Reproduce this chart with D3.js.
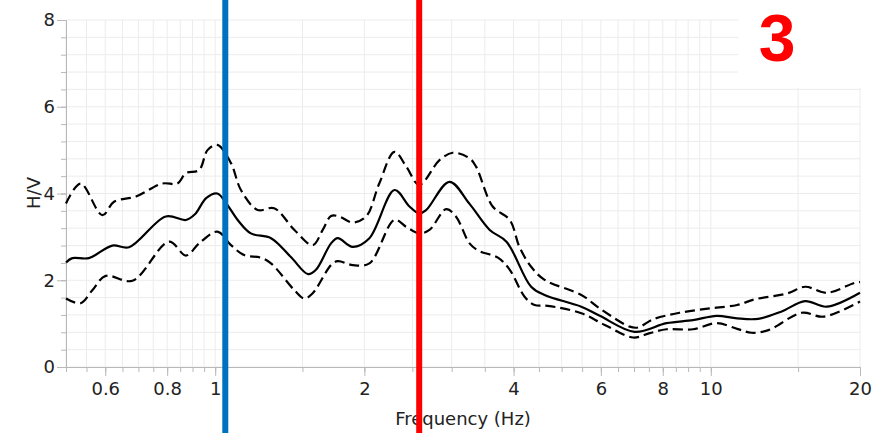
<!DOCTYPE html>
<html><head><meta charset="utf-8">
<script src="https://cdn.jsdelivr.net/npm/d3@7"></script>
<style>body{margin:0;background:#fff}svg{display:block}</style>
</head><body><svg id="c" width="877" height="433"></svg>
<script>
// ---- data ----
const meanFreq = [0.5,0.515,0.556,0.62,0.67,0.795,0.873,0.91,0.96,1.01,1.059,1.11,1.18,1.296,1.42,1.54,1.597,1.713,1.767,1.894,2.047,2.30,2.466,2.58,2.666,2.97,3.26,3.58,3.87,4.34,4.62,5.48,5.97,7.02,8.14,9.21,10.27,11.3,12.46,13.9,15.5,17.13,20];
const meanHV   = [2.41,2.51,2.51,2.80,2.76,3.47,3.39,3.52,3.90,4.00,3.73,3.39,3.08,2.97,2.54,2.14,2.24,2.85,2.97,2.77,2.97,4.08,3.70,3.54,3.62,4.27,3.76,3.16,2.89,1.85,1.66,1.39,1.18,0.81,1.01,1.08,1.18,1.12,1.11,1.28,1.52,1.39,1.71];
const upperFreq = [0.5,0.535,0.592,0.625,0.692,0.782,0.839,0.873,0.928,0.965,1.01,1.076,1.127,1.218,1.315,1.445,1.573,1.648,1.713,1.78,1.894,2.016,2.143,2.30,2.43,2.58,2.835,3.015,3.26,3.36,3.63,3.93,4.11,4.34,4.62,5.48,5.97,6.86,7.13,7.65,8.65,9.95,11.3,12.27,14.3,15.5,17.13,19.5,20];
const upperHV   = [3.77,4.23,3.50,3.81,3.93,4.23,4.23,4.47,4.54,5.00,5.12,4.70,4.08,3.62,3.66,3.16,2.81,3.16,3.48,3.47,3.33,3.47,4.23,4.96,4.62,4.20,4.77,4.94,4.81,4.62,3.70,3.39,2.77,2.31,2.01,1.66,1.35,0.93,0.91,1.10,1.25,1.35,1.43,1.56,1.70,1.85,1.71,1.94,1.96];
const lowerFreq = [0.5,0.535,0.565,0.601,0.681,0.807,0.873,0.928,1.01,1.076,1.144,1.237,1.296,1.445,1.513,1.573,1.713,1.767,1.894,2.047,2.30,2.43,2.58,2.706,2.925,3.06,3.26,3.40,3.72,3.93,4.21,4.41,4.69,5.48,6.11,6.97,7.53,8.14,9.21,10.27,11.3,12.08,13.07,15.25,16.9,20];
const lowerHV   = [1.58,1.47,1.77,2.10,1.99,2.89,2.57,2.85,3.12,2.81,2.58,2.52,2.39,1.77,1.58,1.70,2.35,2.44,2.35,2.39,3.39,3.23,3.08,3.16,3.64,3.47,2.85,2.68,2.52,2.24,1.62,1.43,1.41,1.24,0.97,0.68,0.78,0.87,0.87,1.01,0.88,0.79,0.85,1.25,1.16,1.51];
const xMajorTicks = [0.6,0.8,1,2,4,6,8,10,20];
const xMajorLabels = ["0.6","0.8","1","2","4","6","8","10","20"];
const xMinorTicks = [0.5,0.55,0.6,0.65,0.7,0.75,0.8,0.85,0.9,0.95,1,1.5,2,2.5,3,3.5,4,4.5,5,5.5,6,6.5,7,7.5,8,8.5,9,9.5,10,15,20];
const yMajorTicks = [0,2,4,6,8];
const yMinorTicks = [0,0.4,0.8,1.2,1.6,2,2.4,2.8,3.2,3.6,4,4.4,4.8,5.2,5.6,6,6.4,6.8,7.2,7.6,8];
const markerFreqs = [1.048, 2.58];
const markerColors = ["#0070C0", "#FF0000"];
const panelLabel = "3";
const xTitle = "Frequency (Hz)";
const yTitle = "H/V";

// ---- layout ----
const svg = d3.select("#c");
const L = 66, R = 860, T = 20, B = 367;
const x = d3.scaleLog().domain([0.5, 20]).range([L, R]);
const y = d3.scaleLinear().domain([0, 8]).range([B, T]);
const font = "'DejaVu Sans', Verdana, sans-serif";

// grid
const g = svg.append("g");
g.selectAll(".vg").data(xMinorTicks).join("line")
  .attr("x1", d => x(d)).attr("x2", d => x(d)).attr("y1", T).attr("y2", B)
  .attr("stroke", "#ececec").attr("stroke-width", 1);
g.selectAll(".hg").data(yMinorTicks).join("line")
  .attr("x1", L).attr("x2", R).attr("y1", d => y(d)).attr("y2", d => y(d))
  .attr("stroke", "#ececec").attr("stroke-width", 1);

// white box top-right covering grid
svg.append("rect").attr("x", 738).attr("y", 0).attr("width", 139).attr("height", 88).attr("fill", "#fff");

// axes
const axCol = "#b8b8b8";
const xMinorAx = svg.append("g").attr("transform", `translate(0,${B})`)
  .call(d3.axisBottom(x).tickValues(xMinorTicks).tickSize(5).tickFormat(""));
const xMajorAx = svg.append("g").attr("transform", `translate(0,${B})`)
  .call(d3.axisBottom(x).tickValues(xMajorTicks).tickSize(9).tickPadding(6)
    .tickFormat((d, i) => xMajorLabels[i]));
const yMinorAx = svg.append("g").attr("transform", `translate(${L},0)`)
  .call(d3.axisLeft(y).tickValues(yMinorTicks).tickSize(5).tickFormat(""));
const yMajorAx = svg.append("g").attr("transform", `translate(${L},0)`)
  .call(d3.axisLeft(y).tickValues(yMajorTicks).tickSize(9).tickPadding(2).tickFormat(d3.format("d")));
[xMinorAx, xMajorAx, yMinorAx, yMajorAx].forEach(a => {
  a.selectAll("path").attr("stroke", axCol);
  a.selectAll("line").attr("stroke", axCol);
  a.selectAll("text").attr("fill", "#222").style("font-family", font).style("font-size", "18px");
});
xMajorAx.select("path").remove(); yMajorAx.select("path").remove();

// curves
const line = d3.line().curve(d3.curveCatmullRom.alpha(0.5));
function draw(fr, vals, dash) {
  svg.append("path")
    .attr("d", line(fr.map((f, i) => [x(f), y(vals[i])])))
    .attr("fill", "none").attr("stroke", "#000").attr("stroke-width", 2.2)
    .attr("stroke-dasharray", dash ? "10,5" : null);
}
draw(upperFreq, upperHV, true);
draw(lowerFreq, lowerHV, true);
draw(meanFreq, meanHV, false);

// titles
svg.append("text").attr("x", 463).attr("y", 425).attr("text-anchor", "middle")
  .style("font-family", font).style("font-size", "18px").attr("fill", "#222").text(xTitle);
svg.append("text").attr("transform", "translate(40,193) rotate(-90)").attr("text-anchor", "middle")
  .style("font-family", font).style("font-size", "18px").attr("fill", "#222").text(yTitle);

// marker lines
svg.selectAll(".mk").data(markerFreqs).join("line")
  .attr("x1", d => x(d)).attr("x2", d => x(d)).attr("y1", 0).attr("y2", 433)
  .attr("stroke", (d, i) => markerColors[i]).attr("stroke-width", 6);

// panel label
svg.append("text").attr("x", 777).attr("y", 61).attr("text-anchor", "middle")
  .style("font-family", "'Liberation Sans', Arial, sans-serif").style("font-weight", "bold")
  .style("font-size", "66px").attr("fill", "#FF0000").text(panelLabel);
</script></body></html>
